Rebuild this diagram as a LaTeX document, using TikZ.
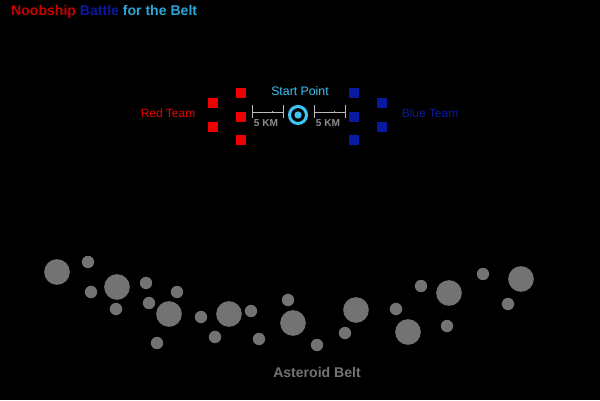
\documentclass[tikz,border=0pt]{standalone}
\usepackage{fontspec}
\setmainfont{Liberation Sans}
\usepackage{tikz}
\usetikzlibrary{shapes.geometric}
\definecolor{teamred}{HTML}{EE0000}
\definecolor{titlered}{HTML}{C80000}
\definecolor{teamblue}{HTML}{0A1AA0}
\definecolor{lightblue}{HTML}{2AA6DA}
\definecolor{startblue}{HTML}{3EC4F6}
\definecolor{rockgray}{HTML}{737373}
\definecolor{kmgray}{HTML}{8C8C8C}
\definecolor{bargray}{HTML}{BBBBBB}
\tikzstyle{redship} = [rectangle, minimum size=0.3cm, inner sep=0pt, fill=teamred]
\tikzstyle{blueship} = [rectangle, minimum size=0.3cm, inner sep=0pt, fill=teamblue]
\tikzstyle{bigrock} = [circle, minimum size=0.77cm, inner sep=0pt, fill=rockgray]
\tikzstyle{smallrock} = [circle, minimum size=0.37cm, inner sep=0pt, fill=rockgray]
\tikzstyle{kmlabel} = [text=kmgray, font=\bfseries\fontsize{8.6}{10}\selectfont, inner sep=0pt]
\tikzstyle{bar} = [bargray, line width=0.6pt]

\begin{document}
\begin{tikzpicture}[x=0.03cm, y=-0.03cm]
    \fill[black] (0,0) rectangle (600,400);
    \useasboundingbox (0,0) rectangle (600,400);
    \node (Title) [anchor=west, inner sep=0pt, font=\bfseries\fontsize{12}{14}\selectfont] at (11,12) {\textcolor{titlered}{Noobship} \textcolor{teamblue}{Battle} \textcolor{lightblue}{for the Belt}};
    % teams
    \node (Red1) [redship] at (213,103) {};
    \node (Red2) [redship] at (213,127) {};
    \node (Red3) [redship] at (241,93) {};
    \node (Red4) [redship] at (241,117) {};
    \node (Red5) [redship] at (241,140) {};
    \node (Blue1) [blueship] at (354,93) {};
    \node (Blue2) [blueship] at (354,117) {};
    \node (Blue3) [blueship] at (354,140) {};
    \node (Blue4) [blueship] at (382,103) {};
    \node (Blue5) [blueship] at (382,127) {};
    \node (RedTeam) [text=teamred, font=\fontsize{10.2}{12}\selectfont] at (168,113) {Red Team};
    \node (BlueTeam) [text=teamblue, font=\fontsize{10.2}{12}\selectfont] at (430,113) {Blue Team};
    % start point
    \node (Start) [circle, draw=startblue, line width=2.6pt, minimum size=0.51cm] at (298,115) {};
    \node (StartDot) [circle, fill=startblue, minimum size=0.22cm, inner sep=0pt] at (Start) {};
    \node (StartLabel) [text=startblue, font=\fontsize{10.5}{12}\selectfont] at (300,91) {Start Point};
    % scale bars
    \coordinate (LeftA) at (252,112.5);
    \coordinate (LeftB) at (283,112.5);
    \coordinate (RightA) at (314,112.5);
    \coordinate (RightB) at (345,112.5);
    \draw [bar] (LeftA) -- (LeftB);
    \draw [bar] (RightA) -- (RightB);
    \draw [bar] (LeftA) ++(0,-7) -- ++(0,13);
    \draw [bar] (LeftB) ++(0,-7) -- ++(0,13);
    \draw [bar] (RightA) ++(0,-7) -- ++(0,13);
    \draw [bar] (RightB) ++(0,-7) -- ++(0,13);
    \draw [bar] (LeftA) ++(20,0) -- ++(0,-1.5);
    \draw [bar] (RightA) ++(20,0) -- ++(0,-1.5);
    \node (LeftKm) [kmlabel] at (266,123) {5 KM};
    \node (RightKm) [kmlabel] at (328,123) {5 KM};
    % asteroid belt
    \node (Rock1) [bigrock] at (57,272) {};
    \node (Rock2) [smallrock] at (88,262) {};
    \node (Rock3) [smallrock] at (91,292) {};
    \node (Rock4) [bigrock] at (117,287) {};
    \node (Rock5) [smallrock] at (116,309) {};
    \node (Rock6) [smallrock] at (146,283) {};
    \node (Rock7) [smallrock] at (149,303) {};
    \node (Rock8) [smallrock] at (177,292) {};
    \node (Rock9) [bigrock] at (169,314) {};
    \node (Rock10) [smallrock] at (157,343) {};
    \node (Rock11) [smallrock] at (201,317) {};
    \node (Rock12) [bigrock] at (229,314) {};
    \node (Rock13) [smallrock] at (215,337) {};
    \node (Rock14) [smallrock] at (251,311) {};
    \node (Rock15) [smallrock] at (259,339) {};
    \node (Rock16) [smallrock] at (288,300) {};
    \node (Rock17) [bigrock] at (293,323) {};
    \node (Rock18) [smallrock] at (317,345) {};
    \node (Rock19) [smallrock] at (345,333) {};
    \node (Rock20) [bigrock] at (356,310) {};
    \node (Rock21) [smallrock] at (396,309) {};
    \node (Rock22) [bigrock] at (408,332) {};
    \node (Rock23) [smallrock] at (421,286) {};
    \node (Rock24) [bigrock] at (449,293) {};
    \node (Rock25) [smallrock] at (447,326) {};
    \node (Rock26) [smallrock] at (483,274) {};
    \node (Rock27) [bigrock] at (521,279) {};
    \node (Rock28) [smallrock] at (508,304) {};
    \node (BeltLabel) [text=rockgray, font=\bfseries\fontsize{12}{14}\selectfont] at (317,372) {Asteroid Belt};
\end{tikzpicture}
\end{document}
